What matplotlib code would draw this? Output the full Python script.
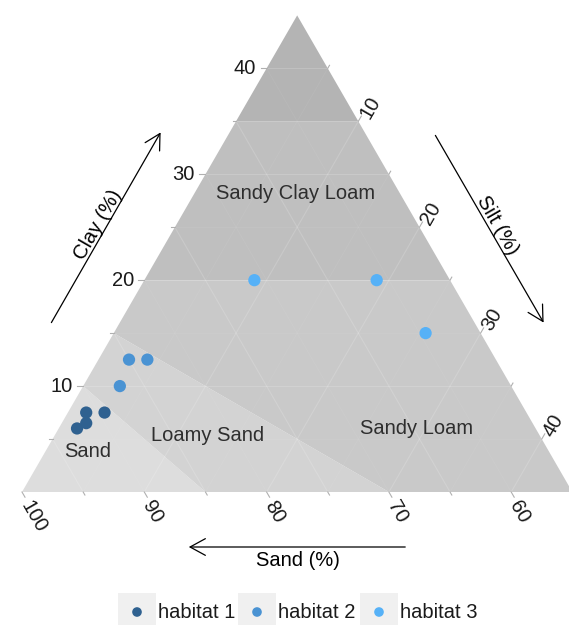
import numpy as np
import matplotlib.pyplot as plt
from matplotlib.patches import Polygon, Rectangle, FancyArrowPatch

plt.rcParams['font.family'] = ['Liberation Sans', 'DejaVu Sans']

# Probenpunkte je Habitat (Sand, Ton, Schluff in %)
h1_sand = [91.0, 89.5, 92.5, 91.5]
h1_clay = [7.5, 7.5, 6.0, 6.5]
h1_silt = [1.5, 3.0, 1.5, 2.0]

h2_sand = [85.0, 83.5, 87.0]
h2_clay = [12.5, 12.5, 10.0]
h2_silt = [2.5, 4.0, 3.0]

h3_sand = [71.0, 61.0, 59.5]
h3_clay = [20.0, 20.0, 15.0]
h3_silt = [9.0, 19.0, 25.5]

habitate = ['habitat 1', 'habitat 2', 'habitat 3']
farben = ['#2f6190', '#4a93d3', '#56b1f7']

# Bodenarten (USDA), beschnitten auf Sand >= 55 %
klassen = {
    'Sand': [(100, 0, 0), (90, 10, 0), (85, 0, 15)],
    'Loamy Sand': [(90, 10, 0), (85, 15, 0), (70, 0, 30), (85, 0, 15)],
    'Sandy Loam': [(85, 15, 0), (80, 20, 0), (55, 20, 25), (55, 0, 45), (70, 0, 30)],
    'Sandy Clay Loam': [(80, 20, 0), (65, 35, 0), (55, 35, 10), (55, 20, 25)],
    'Sandy Clay': [(65, 35, 0), (55, 45, 0), (55, 35, 10)],
}
klassen_farben = {
    'Sand': '#dddddd',
    'Loamy Sand': '#d3d3d3',
    'Sandy Loam': '#c9c9c9',
    'Sandy Clay Loam': '#bfbfbf',
    'Sandy Clay': '#b4b4b4',
}
# Beschriftung der Bodenarten (Sand, Ton, Schluff)
klassen_text = {
    'Sand': (92.7, 3.8, 3.5),
    'Loamy Sand': (82.2, 5.3, 12.5),
    'Sandy Loam': (64.7, 6.0, 29.3),
    'Sandy Clay Loam': (63.5, 28.2, 8.3),
}

achsen_ticks = [10, 20, 30, 40]
sand_ticks = [100, 90, 80, 70, 60]


def tern(sand, clay, silt):
    sand = np.asarray(sand, dtype=float)
    clay = np.asarray(clay, dtype=float)
    silt = np.asarray(silt, dtype=float)
    return silt + clay / 2, clay * np.sqrt(3) / 2


k = 12.23  # Pixel pro Prozent
fig = plt.figure(figsize=(5.69, 6.25), dpi=100)
ax = fig.add_axes([0, 0, 1, 1])
ax.set_xlim(-22 / k, 547 / k)
ax.set_ylim(-133 / k, 492 / k)
ax.axis('off')

# Flaechen der Bodenarten
for name, ecken in klassen.items():
    xs, ys = tern(*zip(*ecken))
    ax.add_patch(Polygon(np.column_stack([xs, ys]), closed=True,
                         facecolor=klassen_farben[name], edgecolor='none', zorder=1))

# Gitternetz im Dreieck
def gitter(p, q, lw, alpha):
    xs, ys = tern(*zip(p, q))
    ax.plot(xs, ys, color='white', lw=lw, alpha=alpha, zorder=2, solid_capstyle='butt')

for v in np.arange(5, 45, 5):
    major = v % 10 == 0
    lw, al = (0.8, 0.16) if major else (0.6, 0.06)
    gitter((100 - v, v, 0), (55, v, 45 - v), lw, al)          # Ton konstant
    gitter((100 - v, 0, v), (55, 45 - v, v), lw, al)          # Schluff konstant
    gitter((55 + v, 45 - v, 0), (55 + v, 0, 45 - v), lw, al)  # Sand konstant

# Ticks und Beschriftungen
tick_col = '#b0b0b0'
for v in np.arange(5, 45, 5):
    laenge = 6 / k if v % 10 == 0 else 3.5 / k
    x, y = tern(100 - v, v, 0)
    ax.plot([x, x - laenge], [y, y], color=tick_col, lw=0.8, zorder=2)
    x, y = tern(55, 45 - v, v)
    ax.plot([x, x + laenge * 0.5], [y, y + laenge * 0.866], color=tick_col, lw=0.8, zorder=2)
for v in np.arange(55, 101, 5):
    laenge = 6 / k if v % 10 == 0 else 3.5 / k
    x, y = tern(v, 0, 100 - v)
    ax.plot([x, x + laenge * 0.5], [y, y - laenge * 0.866], color=tick_col, lw=0.8, zorder=2)

for v in achsen_ticks:
    x, y = tern(100 - v, v, 0)
    ax.annotate(str(v), (x, y), xytext=(-7.5, 0), textcoords='offset points',
                ha='right', va='center', fontsize=14.5, color='#1a1a1a')
    x, y = tern(55, 45 - v, v)
    ax.annotate(str(v), (x, y), xytext=(4.3, 2.9), textcoords='offset points',
                ha='left', va='center', rotation=60, rotation_mode='anchor',
                fontsize=14.5, color='#1a1a1a')
for v in sand_ticks:
    x, y = tern(v, 0, 100 - v)
    ax.annotate(str(v), (x, y), xytext=(2, -7.2), textcoords='offset points',
                ha='left', va='center', rotation=-60, rotation_mode='anchor',
                fontsize=14.5, color='#1a1a1a')

for name, (s, c, t) in klassen_text.items():
    x, y = tern(s, c, t)
    ax.text(x, y, name, ha='center', va='center', fontsize=14.5, color='#2e2e2e', zorder=3)

# Achsentitel mit Pfeilen
def pfeil(p, q):
    ax.add_patch(FancyArrowPatch(p, q, arrowstyle='->,head_length=0.55,head_width=0.3',
                                 mutation_scale=20, lw=0.9, color='black', zorder=3))

pfeil((28 / k, 167 / k), (140 / k, 362 / k))
ax.text(76 / k, 267 / k, 'Clay (%)', rotation=60, ha='center', va='center', fontsize=14.5)
pfeil((412 / k, 359 / k), (523 / k, 167 / k))
ax.text(475 / k, 267 / k, 'Silt (%)', rotation=-60, ha='center', va='center', fontsize=14.5)
pfeil((386 / k, -55 / k), (164 / k, -55 / k))
ax.text(276 / k, -68 / k, 'Sand (%)', ha='center', va='center', fontsize=14.5)

# Punkte
for sand, clay, silt, f in [(h1_sand, h1_clay, h1_silt, farben[0]),
                            (h2_sand, h2_clay, h2_silt, farben[1]),
                            (h3_sand, h3_clay, h3_silt, farben[2])]:
    x, y = tern(sand, clay, silt)
    ax.scatter(x, y, s=78, color=f, edgecolors='none', zorder=4)

# Legende unten
lax = fig.add_axes([0, 0, 1, 1])
lax.set_xlim(0, 569)
lax.set_ylim(625, 0)
lax.axis('off')
for i, (name, f) in enumerate(zip(habitate, farben)):
    x0 = [118, 238, 360][i]
    lax.add_patch(Rectangle((x0, 593), 38, 40, facecolor='#f0f0f0', edgecolor='none'))
    lax.scatter([x0 + 19], [612], s=48, color=f, edgecolors='none')
    lax.text(x0 + 40, 612, name, ha='left', va='center', fontsize=14.5, color='#1a1a1a')

fig.savefig('out.png', dpi=100)
